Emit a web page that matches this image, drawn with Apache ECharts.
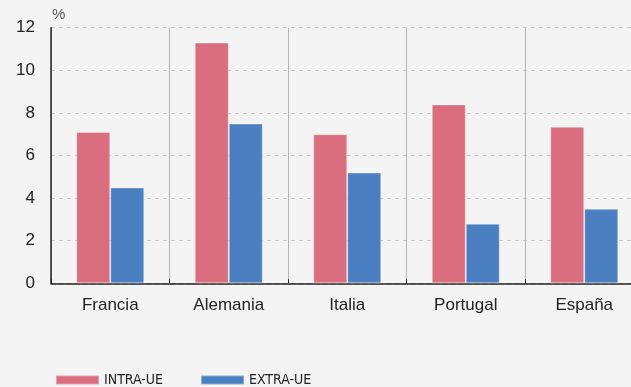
<!DOCTYPE html>
<html>
<head>
<meta charset="utf-8">
<script src="https://cdn.jsdelivr.net/npm/echarts@6/dist/echarts.min.js"></script>
<style>
html,body{margin:0;padding:0;background:#f4f4f4;}
#chart{width:631px;height:387px;}
</style>
</head>
<body>
<div id="chart"></div>
<script>
const categories = ['Francia', 'Alemania', 'Italia', 'Portugal', 'España'];
const intraUE = [7.1, 11.3, 7.0, 8.4, 7.35];
const extraUE = [4.5, 7.5, 5.2, 2.8, 3.5];
const seriesNames = ['INTRA-UE', 'EXTRA-UE'];
const yTicks = { min: 0, max: 12, interval: 2 };

const chart = echarts.init(document.getElementById('chart'), null, { renderer: 'canvas' });
const font = 'Liberation Sans, Arial, sans-serif';
chart.setOption({
  backgroundColor: '#f4f4f4',
  animation: false,
  grid: { left: 51, top: 27.7, height: 255.6, width: 592.5, containLabel: false, outerBoundsMode: 'none' },
  legend: {
    left: 50, top: 368,
    itemWidth: 43, itemHeight: 9, itemGap: 37,
    icon: 'rect',
    textStyle: { fontFamily: 'DejaVu Sans Condensed, Liberation Sans Narrow, Liberation Sans, sans-serif', fontSize: 14, color: '#222' },
    data: seriesNames
  },
  graphic: [{
    type: 'text', left: 52, top: 7,
    style: { text: '%', fontFamily: font, fontSize: 15, fill: '#555' }
  }],
  xAxis: {
    type: 'category',
    data: categories,
    axisLine: { show: true, lineStyle: { color: '#222', width: 1.5 } },
    axisTick: { show: true, inside: true, length: 4, lineStyle: { color: '#222' } },
    axisLabel: { fontFamily: font, fontSize: 17, color: '#222', margin: 14 },
    splitLine: { show: true, lineStyle: { color: '#b4b4b4', width: 1 } }
  },
  yAxis: {
    type: 'value',
    min: yTicks.min, max: yTicks.max, interval: yTicks.interval,
    axisLine: { show: true, lineStyle: { color: '#222', width: 1.5 } },
    axisTick: { show: false },
    axisLabel: { fontFamily: font, fontSize: 17, color: '#222', margin: 16 },
    splitLine: { show: true, lineStyle: { color: '#c8c8c8', type: [4, 4], width: 1 } }
  },
  series: [
    {
      name: seriesNames[0], type: 'bar', data: intraUE,
      barWidth: 34, barGap: '0%',
      itemStyle: { color: '#db6e7e', borderColor: 'rgba(255,255,255,0.35)', borderWidth: 1 }
    },
    {
      name: seriesNames[1], type: 'bar', data: extraUE,
      barWidth: 34, barGap: '0%',
      itemStyle: { color: '#4a80c1', borderColor: 'rgba(255,255,255,0.35)', borderWidth: 1 }
    }
  ]
});
</script>
</body>
</html>
